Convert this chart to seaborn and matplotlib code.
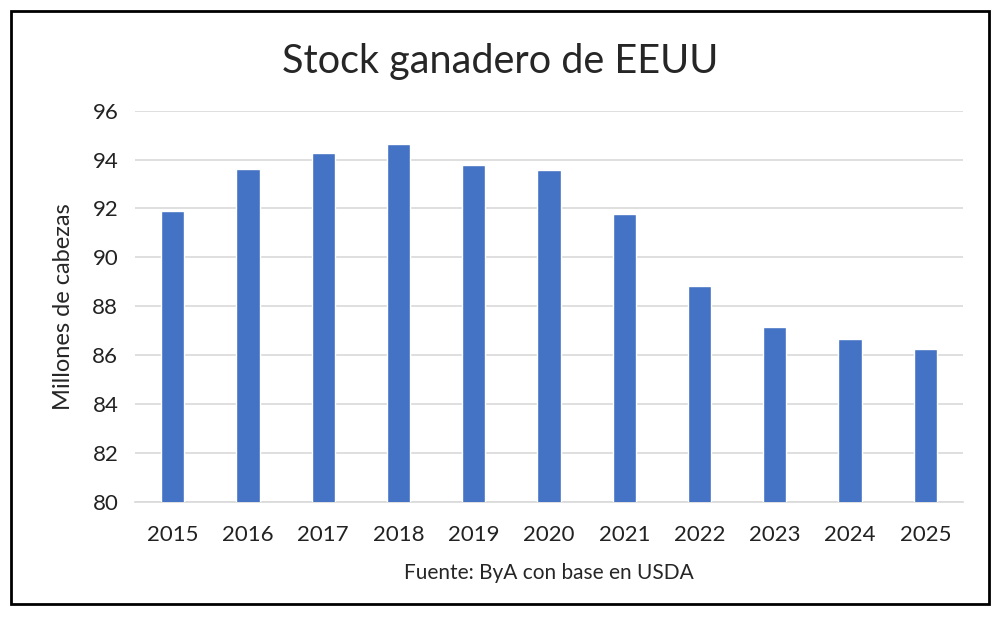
import matplotlib
matplotlib.use("Agg")
import matplotlib.pyplot as plt
import seaborn as sns
import pandas as pd
from matplotlib.patches import Rectangle

# Data
years = ["2015", "2016", "2017", "2018", "2019", "2020", "2021", "2022", "2023", "2024", "2025"]
stock = [91.88, 93.60, 94.27, 94.65, 93.77, 93.57, 91.78, 88.84, 87.13, 86.65, 86.26]
y_ticks = [80, 82, 84, 86, 88, 90, 92, 94, 96]

df = pd.DataFrame({"year": years, "stock": stock})

sns.set_theme(style="white")
plt.rcParams["font.family"] = ["Lato", "DejaVu Sans"]

fig = plt.figure(figsize=(10, 6.18), dpi=100)
ax = fig.add_axes([0.135, 0.188, 0.828, 0.633])

sns.barplot(data=df, x="year", y="stock", color="#4472C4", width=0.31,
            saturation=1, ax=ax, zorder=3)

ax.set_ylim(80, 96)
ax.set_xlim(-0.5, len(years) - 0.5)
ax.set_yticks(y_ticks)
ax.yaxis.grid(True, color="#d9d9d9", linewidth=1.2, zorder=0)
for side in ["top", "right", "left"]:
    ax.spines[side].set_visible(False)
ax.spines["bottom"].set_color("#d9d9d9")
ax.spines["bottom"].set_linewidth(1.2)
ax.tick_params(axis="both", length=0, labelsize=16, colors="#222222")
ax.tick_params(axis="x", pad=17)
ax.tick_params(axis="y", pad=12)

ax.set_xlabel("Fuente: ByA con base en USDA", fontsize=15, labelpad=13)
ax.set_ylabel("Millones de cabezas", fontsize=17, labelpad=13)

fig.suptitle("Stock ganadero de EEUU", fontsize=28.5, y=0.93)

# black frame around the whole picture
fig.patches.append(Rectangle((0.011, 0.023), 0.978, 0.96, transform=fig.transFigure,
                             fill=False, edgecolor="black", linewidth=2))

fig.savefig("out.png", dpi=100)
